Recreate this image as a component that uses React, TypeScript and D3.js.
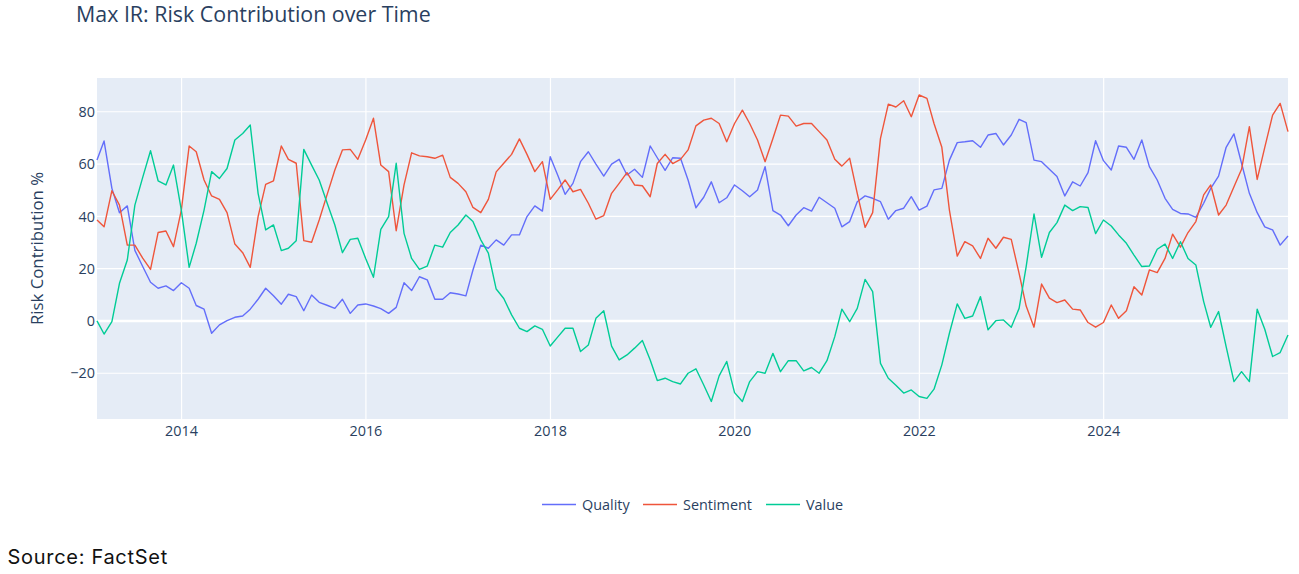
import React from "react";
import * as d3 from "d3";

const seriesNames = ["Quality", "Sentiment", "Value"];
const seriesColors = ["#636efa", "#EF553B", "#00cc96"];

// Month-end observations from Jan 2013 to Dec 2025
const startYear = 2013;
const monthCount = 156;

const quality = [
  61.5, 68.8, 50.7, 41.4, 44.0, 27.0, 20.8, 14.8, 12.5, 13.4, 11.6, 14.6,
  12.5, 5.9, 4.5, -4.7, -1.5, 0.1, 1.4, 1.9, 4.5, 8.3, 12.5, 9.6,
  6.4, 10.2, 9.3, 3.9, 9.9, 7.1, 6.0, 4.8, 8.3, 2.9, 6.1, 6.5,
  5.7, 4.7, 2.9, 5.2, 14.6, 11.6, 16.9, 15.7, 8.3, 8.3, 10.8, 10.3,
  9.6, 19.5, 29.0, 27.8, 31.0, 29.0, 32.9, 32.9, 39.9, 44.0, 42.0, 62.8,
  55.4, 48.4, 52.6, 60.9, 64.7, 60.0, 55.4, 60.0, 61.8, 55.8, 58.0, 54.9,
  66.9, 62.4, 57.6, 62.4, 62.2, 53.9, 43.3, 47.3, 53.2, 45.2, 47.1, 52.0,
  49.8, 47.5, 50.1, 59.0, 42.2, 40.5, 36.4, 40.5, 43.3, 42.0, 47.3, 45.2,
  43.1, 36.0, 38.0, 45.6, 47.8, 46.9, 45.6, 38.9, 42.2, 43.1, 47.5, 42.4,
  43.9, 50.1, 50.7, 61.5, 68.2, 68.5, 68.9, 66.4, 71.1, 71.7, 67.3, 71.1,
  77.1, 75.8, 61.5, 60.9, 58.0, 55.2, 47.8, 53.2, 51.6, 56.7, 68.9, 61.3,
  57.7, 66.9, 66.4, 61.8, 69.2, 59.0, 53.9, 46.9, 42.7, 41.1, 40.9, 39.6,
  45.0, 50.7, 55.4, 66.4, 71.5, 60.3, 48.8, 41.4, 36.0, 34.8, 29.0, 32.5,
];

const sentiment = [
  38.6, 36.0, 49.8, 44.3, 29.0, 29.0, 24.0, 19.7, 33.8, 34.4, 28.4, 42.4,
  66.9, 64.7, 53.9, 47.8, 46.5, 41.4, 29.4, 26.1, 20.5, 39.9, 52.2, 53.6,
  66.9, 61.8, 60.3, 30.7, 30.1, 38.6, 48.2, 57.7, 65.4, 65.6, 61.8, 69.2,
  77.5, 59.6, 57.1, 34.5, 52.0, 64.3, 63.1, 62.8, 62.2, 63.4, 54.9, 52.6,
  49.4, 43.4, 41.4, 46.5, 57.0, 60.3, 63.7, 69.6, 63.7, 57.1, 60.9, 46.5,
  50.3, 53.9, 49.4, 50.3, 45.0, 38.9, 40.3, 48.8, 52.6, 56.7, 52.0, 51.7,
  47.5, 60.2, 63.7, 60.2, 61.8, 65.4, 74.6, 76.8, 77.5, 75.5, 68.5, 75.5,
  80.6, 75.5, 69.2, 60.9, 69.8, 78.7, 78.3, 74.5, 75.5, 75.5, 72.4, 69.2,
  61.8, 59.2, 62.2, 48.8, 35.8, 41.4, 69.8, 82.9, 81.8, 84.2, 78.1, 86.4,
  85.1, 75.5, 66.4, 42.4, 24.8, 30.3, 28.7, 23.9, 31.6, 27.8, 32.0, 31.2,
  18.2, 5.7, -2.4, 14.1, 8.7, 7.0, 8.0, 4.5, 4.2, -0.6, -2.4, -0.6,
  6.1, 1.0, 3.9, 13.1, 9.9, 19.5, 18.5, 23.9, 33.2, 28.2, 33.8, 38.0,
  48.2, 52.0, 40.5, 44.3, 51.3, 58.0, 74.3, 54.1, 66.4, 78.7, 83.2, 72.4,
];

const valueSeries = [
  0.0, -5.0, -0.3, 14.4, 23.3, 44.3, 54.9, 65.1, 53.6, 52.0, 59.6, 42.4,
  20.5, 29.7, 42.4, 57.1, 54.5, 58.3, 69.2, 71.7, 74.9, 48.8, 34.8, 36.7,
  26.9, 27.8, 30.7, 65.6, 59.6, 53.9, 45.2, 36.7, 26.1, 31.2, 31.6, 23.9,
  16.7, 35.0, 39.9, 60.3, 33.5, 23.9, 19.7, 21.0, 29.0, 28.2, 33.8, 36.7,
  40.5, 38.0, 31.0, 25.9, 12.2, 8.6, 2.3, -2.8, -4.1, -1.9, -3.2, -9.6,
  -6.0, -2.8, -2.8, -11.7, -9.2, 1.0, 3.9, -9.6, -14.9, -13.0, -10.4, -7.5,
  -14.9, -22.8, -21.9, -23.2, -24.1, -20.0, -18.3, -24.5, -30.8, -21.0, -15.5, -27.4,
  -30.8, -23.2, -19.4, -20.0, -12.4, -19.4, -15.2, -15.2, -19.1, -17.8, -20.0, -15.2,
  -6.0, 4.5, -0.3, 4.8, 15.9, 11.2, -16.2, -21.9, -24.6, -27.6, -26.4, -28.9,
  -29.6, -26.1, -16.8, -4.7, 6.5, 1.0, 1.9, 9.3, -3.4, 0.1, 0.4, -2.4,
  4.8, 20.8, 40.9, 24.3, 33.8, 37.6, 44.3, 42.2, 43.7, 43.4, 33.4, 38.6,
  36.3, 32.9, 29.7, 25.2, 20.8, 21.0, 27.4, 29.4, 23.9, 30.3, 23.9, 21.4,
  7.4, -2.4, 3.6, -9.8, -23.2, -19.4, -23.2, 4.5, -3.2, -13.6, -12.1, -5.4,
];

const yTicks = [-20, 0, 20, 40, 60, 80];
const xTickYears = [2014, 2016, 2018, 2020, 2022, 2024];

const W = 1299;
const H = 574;
const plot = { left: 97, right: 1288, top: 78, bottom: 419 };
const FONT = "'Open Sans', verdana, arial, sans-serif";
const TEXT = "#2a3f5f";

export default function App() {
  const dates = d3.range(monthCount).map((i) => new Date(startYear, i + 1, 0));
  const x = d3
    .scaleTime()
    .domain([dates[0], dates[dates.length - 1]])
    .range([plot.left, plot.right]);
  const y = d3.scaleLinear().domain([-37.5, 92.9]).range([plot.bottom, plot.top]);

  const all = [quality, sentiment, valueSeries];
  const line = d3
    .line<number>()
    .x((_, i) => x(dates[i]))
    .y((d) => y(d));

  const legendItems = [
    { lineX: 542, textX: 582 },
    { lineX: 643, textX: 683 },
    { lineX: 766, textX: 806 },
  ];

  return (
    <svg
      width={W}
      height={H}
      style={{ position: "absolute", left: 0, top: 0, background: "#fff" }}
      fontFamily={FONT}
    >
      <rect x={0} y={0} width={W} height={H} fill="#fff" />
      <text x={76} y={21.5} fontSize={21.4} fill={TEXT}>
        Max IR: Risk Contribution over Time
      </text>
      <rect
        x={plot.left}
        y={plot.top}
        width={plot.right - plot.left}
        height={plot.bottom - plot.top}
        fill="#E5ECF6"
      />
      {xTickYears.map((yr) => {
        const xx = x(new Date(yr, 0, 1));
        return (
          <g key={yr}>
            <line x1={xx} x2={xx} y1={plot.top} y2={plot.bottom} stroke="#fff" strokeWidth={1.2} />
            <text x={xx} y={436} fontSize={14.4} fill={TEXT} textAnchor="middle">
              {yr}
            </text>
          </g>
        );
      })}
      {yTicks.map((t) => (
        <g key={t}>
          <line
            x1={plot.left}
            x2={plot.right}
            y1={y(t)}
            y2={y(t)}
            stroke="#fff"
            strokeWidth={t === 0 ? 2.4 : 1.2}
          />
          <text x={95} y={y(t)} dy="0.36em" fontSize={14.4} fill={TEXT} textAnchor="end">
            {t < 0 ? "\u2212" + Math.abs(t) : String(t)}
          </text>
        </g>
      ))}
      <g>
        {all.map((s, k) => (
          <path
            key={k}
            d={line(s) || ""}
            fill="none"
            stroke={seriesColors[k]}
            strokeWidth={1.4}
            strokeLinejoin="round"
          />
        ))}
      </g>
      <text
        transform={`translate(42.5,${(plot.top + plot.bottom) / 2}) rotate(-90)`}
        fontSize={16.8}
        fill={TEXT}
        textAnchor="middle"
      >
        Risk Contribution %
      </text>
      {seriesNames.map((n, k) => (
        <g key={n}>
          <line
            x1={legendItems[k].lineX}
            x2={legendItems[k].lineX + 34}
            y1={504.5}
            y2={504.5}
            stroke={seriesColors[k]}
            strokeWidth={1.4}
          />
          <text x={legendItems[k].textX} y={509.5} fontSize={14.4} fill={TEXT}>
            {n}
          </text>
        </g>
      ))}
      <text
        x={7.5}
        y={563.5}
        fontSize={20}
        letterSpacing={0.7}
        fill="#111"
        fontFamily="Inter, 'Noto Sans', sans-serif"
      >
        Source: FactSet
      </text>
    </svg>
  );
}
